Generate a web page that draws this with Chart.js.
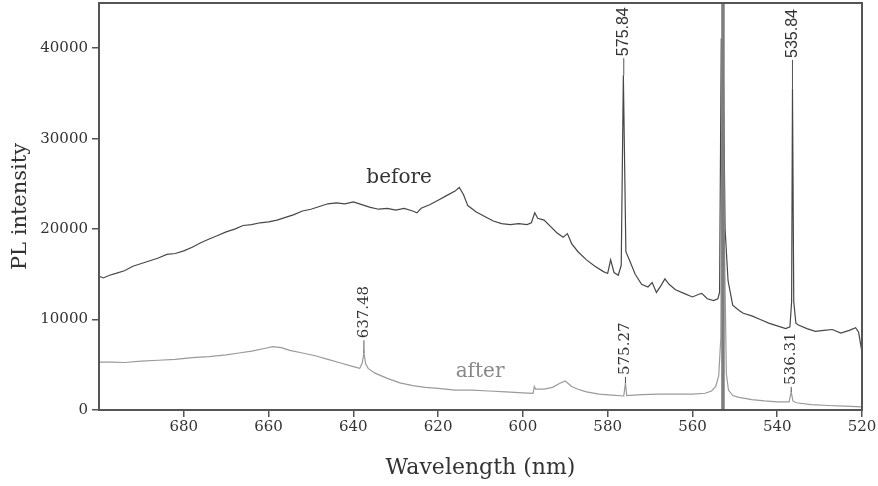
<!DOCTYPE html>
<html>
<head>
<meta charset="utf-8">
<script src="https://cdn.jsdelivr.net/npm/chart.js@4/dist/chart.umd.min.js"></script>
<style>
  body { margin: 0; background: #fff; }
  #wrap { width: 878px; height: 486px; }
</style>
</head>
<body>
<div id="wrap"><canvas id="myChart" width="878" height="486"></canvas></div>
<script>
// spectrum "before" (wavelength nm, PL intensity)
var beforeNm = [700, 699, 697.5, 696, 694, 692, 690, 688, 686, 684, 682, 680, 678, 676, 674, 672, 670, 668, 666, 664, 662, 660,
  658, 656, 654, 652, 650, 648, 646, 644, 642, 640, 638, 636, 634, 632, 630, 628, 626, 625, 624, 622, 620, 618, 616, 615,
  614, 613, 611, 609, 607, 605, 603, 601, 599, 598, 597.2, 596.5, 595, 593.5, 592, 590.5, 589.5, 588.5, 587, 585, 583, 581,
  580, 579.3, 578.5, 577.5, 576.8, 576.3, 575.7, 574.8, 573.5, 572, 570.5, 569.5, 568.5, 567.5, 566.5, 565.5, 564, 562, 560,
  558.5, 557.8, 556.5, 555, 554, 553.6, 553.2, 552.8, 552.3, 551.6, 550.5, 549, 548, 546, 544, 542, 540, 538, 537, 536.6,
  536.4, 536.1, 535.6, 535, 533, 531, 529, 527, 525, 523, 521.5, 520.8, 520.3, 520];
var beforeVal = [14800, 14600, 14900, 15100, 15400, 15900, 16200, 16500, 16800, 17200, 17300, 17600, 18000, 18500, 18900, 19300, 19700, 20000, 20400, 20500, 20700, 20800,
  21000, 21300, 21600, 22000, 22200, 22500, 22800, 22900, 22800, 23000, 22700, 22400, 22200, 22300, 22100, 22300, 22000, 21800, 22300, 22700, 23200, 23700, 24200, 24600,
  23800, 22600, 21900, 21400, 20900, 20600, 20500, 20600, 20500, 20700, 21800, 21200, 21000, 20300, 19600, 19100, 19500, 18400, 17500, 16600, 15900, 15300,
  15100, 16600, 15200, 14900, 16000, 37000, 17500, 16500, 15000, 13900, 13600, 14100, 13000, 13700, 14500, 13900, 13300, 12900, 12500,
  12800, 12900, 12300, 12100, 12300, 13000, 41000, 41000, 20000, 14300, 11600, 11000, 10700, 10400, 10000, 9600, 9300, 9000, 9200, 12000,
  35500, 12000, 9600, 9400, 9000, 8700, 8800, 8900, 8500, 8800, 9100, 8600, 7200, 6400];

// spectrum "after"
var afterNm = [700, 697, 694, 690, 686, 682, 678, 674, 670, 667, 664, 661, 659, 657, 655, 652, 649, 646, 643, 640, 638.5, 637.9,
  637.5, 637.1, 636.5, 635, 632, 629, 626, 623, 620, 616, 612, 608, 604, 600, 597.6, 597.3, 597, 595, 593, 591.5, 590, 588.5,
  587, 585, 582, 579, 576.2, 575.8, 575.5, 572, 568, 564, 560, 557, 555.5, 554.5, 553.8, 553.3, 553, 552.5, 552, 551.5, 550.5,
  549, 546, 543, 540, 537.2, 536.7, 536.3, 535.5, 532, 528, 524, 520];
var afterVal = [5300, 5300, 5250, 5400, 5500, 5600, 5800, 5900, 6100, 6300, 6500, 6800, 7000, 6900, 6600, 6300, 6000, 5600, 5200, 4800, 4600, 5200,
  6300, 5100, 4600, 4100, 3500, 3000, 2700, 2500, 2400, 2200, 2200, 2100, 2000, 1900, 1850, 2600, 2300, 2300, 2500, 2900, 3200, 2600,
  2300, 2000, 1750, 1650, 1550, 3000, 1600, 1700, 1750, 1750, 1750, 1850, 2100, 2600, 3800, 8000, 41000, 20000, 4000, 2200, 1600,
  1400, 1150, 1000, 900, 900, 2000, 1000, 800, 600, 500, 420, 350];

// peak labels: position, peak top, text start, text
var peakNm = [576.2, 536.4, 637.5, 575.8, 536.7];
var peakTop = [37000, 35500, 6300, 3000, 2000];
var peakTextAt = [38900, 38700, 7700, 3650, 2550];
var peakText = ['575.84', '535.84', '637.48', '575.27', '536.31'];
var peakSans = [true, true, false, false, false];

// series names placed in the plot
var seriesLabel = ['before', 'after'];
var seriesLabelNm = [629.2, 610.1];
var seriesLabelVal = [25700, 4200];

var laserNm = 552.8;
var xTicks = [680, 660, 640, 620, 600, 580, 560, 540, 520];
var yTicks = [0, 10000, 20000, 30000, 40000];

function toPoints(xs, ys) {
  var pts = [];
  for (var i = 0; i < xs.length; i++) pts.push({x: xs[i], y: ys[i]});
  return pts;
}

var serif = "'DejaVu Serif', serif";
var sans = "'Liberation Sans', Arial, sans-serif";

var extras = {
  id: 'extras',
  afterDatasetsDraw: function(chart) {
    var c = chart.ctx, a = chart.chartArea;
    var xs = chart.scales.x, ys = chart.scales.y;
    c.save();
    // laser line
    var lx = xs.getPixelForValue(laserNm);
    c.strokeStyle = '#7d7d7d';
    c.lineWidth = 3.5;
    c.beginPath(); c.moveTo(lx, a.top); c.lineTo(lx, a.bottom); c.stroke();

    // peak labels
    for (var i = 0; i < peakNm.length; i++) {
      var px = xs.getPixelForValue(peakNm[i]);
      var p1 = ys.getPixelForValue(peakTop[i]);
      var p2 = ys.getPixelForValue(peakTextAt[i]);
      c.strokeStyle = '#555';
      c.lineWidth = 1;
      c.beginPath(); c.moveTo(px, p1); c.lineTo(px, p2); c.stroke();
      c.save();
      c.translate(px, p2 - 2);
      c.rotate(-Math.PI / 2);
      c.fillStyle = '#333';
      c.font = peakSans[i] ? '16px ' + sans : '15px ' + serif;
      c.textAlign = 'left';
      c.textBaseline = 'middle';
      c.fillText(peakText[i], 0, 0);
      c.restore();
    }

    // series names
    c.font = '20px ' + serif;
    c.textAlign = 'center';
    c.textBaseline = 'middle';
    for (var j = 0; j < seriesLabel.length; j++) {
      c.fillStyle = j == 0 ? '#333' : '#888';
      c.fillText(seriesLabel[j], xs.getPixelForValue(seriesLabelNm[j]), ys.getPixelForValue(seriesLabelVal[j]));
    }

    // frame
    c.strokeStyle = '#555';
    c.lineWidth = 2;
    c.strokeRect(a.left, a.top, a.right - a.left, a.bottom - a.top);
    c.restore();
  }
};

var ctx = document.getElementById('myChart').getContext('2d');
var chart = new Chart(ctx, {
  type: 'scatter',
  data: {
    datasets: [{
      label: 'after',
      data: toPoints(afterNm, afterVal),
      borderColor: '#9a9a9a',
      borderWidth: 1.2,
      showLine: true,
      pointRadius: 0
    }, {
      label: 'before',
      data: toPoints(beforeNm, beforeVal),
      borderColor: '#474747',
      borderWidth: 1.2,
      showLine: true,
      pointRadius: 0
    }]
  },
  options: {
    responsive: false,
    animation: false,
    layout: { padding: { top: 3, right: 16, left: 0, bottom: 0 } },
    plugins: { legend: { display: false }, tooltip: { enabled: false } },
    scales: {
      x: {
        type: 'linear',
        reverse: true,
        min: 520,
        max: 700,
        afterFit: function(s) { s.height = 76; s.paddingLeft = 0; s.paddingRight = 0; },
        afterBuildTicks: function(s) { s.ticks = xTicks.map(function(v) { return {value: v}; }); },
        ticks: { color: '#333', font: { family: serif, size: 15 }, padding: 1, maxRotation: 0,
          callback: function(v) { return '' + v; } },
        grid: { drawOnChartArea: false, tickLength: 7, color: '#555', lineWidth: 1.5 },
        border: { color: '#555', width: 2 },
        title: { display: true, text: 'Wavelength (nm)', color: '#333', font: { family: serif, size: 22 }, padding: { top: 0, bottom: 5 } }
      },
      y: {
        min: 0,
        max: 45000,
        afterFit: function(s) { s.width = 99; s.paddingTop = 0; s.paddingBottom = 0; },
        afterBuildTicks: function(s) { s.ticks = yTicks.map(function(v) { return {value: v}; }); },
        ticks: { color: '#333', font: { family: serif, size: 15 }, padding: 4,
          callback: function(v) { return '' + v; } },
        grid: { drawOnChartArea: false, tickLength: 7, color: '#555', lineWidth: 1.5 },
        border: { color: '#555', width: 2 },
        title: { display: true, text: 'PL intensity', color: '#333', font: { family: serif, size: 21 }, padding: { top: 8, bottom: 0 } }
      }
    }
  },
  plugins: [extras]
});
</script>
</body>
</html>
